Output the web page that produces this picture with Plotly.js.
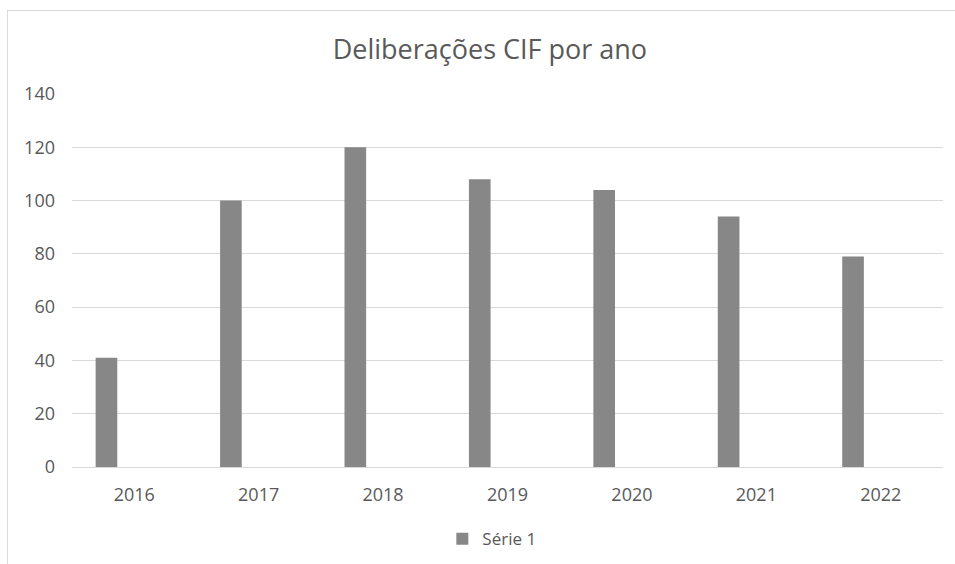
<!DOCTYPE html>
<html>
<head>
<meta charset="utf-8">
<script src="https://cdn.plot.ly/plotly-3.0.1.min.js"></script>
<style>
  html, body { margin: 0; padding: 0; background: #fff; }
  #frame { position: absolute; left: 7px; top: 10px; width: 1000px; height: 600px; border: 1px solid #d9d9d9; box-sizing: border-box; }
  #chart { position: absolute; left: 0; top: 0; width: 955px; height: 564px; }
</style>
</head>
<body>
<div id="frame"></div>
<div id="chart"></div>
<script>
const categories = ["2016", "2017", "2018", "2019", "2020", "2021", "2022"];
const serie1 = [41, 100, 120, 108, 104, 94, 79];
const seriesName = "Série 1";
const chartTitle = "Deliberações CIF por ano";
const yTicks = [0, 20, 40, 60, 80, 100, 120, 140];

const font = "Open Sans, Noto Sans, sans-serif";
const trace = {
  type: "bar",
  x: categories,
  y: serie1,
  name: seriesName,
  width: 0.174,
  offset: -0.31,
  marker: { color: "#878787", line: { width: 0 } },
  hoverinfo: "x+y"
};

const layout = {
  width: 955,
  height: 564,
  paper_bgcolor: "rgba(0,0,0,0)",
  plot_bgcolor: "rgba(0,0,0,0)",
  margin: { l: 72, r: 12, t: 94, b: 97 },
  font: { family: font, color: "#595959", size: 18 },
  title: {
    text: chartTitle,
    font: { family: font, size: 27, color: "#595959" },
    x: 0.513, xref: "container", xanchor: "center",
    y: 0.913, yref: "container", yanchor: "middle",
    automargin: false
  },
  xaxis: {
    type: "category",
    automargin: false,
    showgrid: false,
    zeroline: false,
    showline: false,
    ticks: "",
    tickfont: { size: 18, color: "#595959" },
    ticklabelstandoff: 15
  },
  yaxis: {
    range: [0, 140],
    automargin: false,
    tickvals: yTicks,
    showgrid: true,
    gridcolor: "#d9d9d9",
    gridwidth: 1,
    zeroline: true,
    zerolinecolor: "#d9d9d9",
    zerolinewidth: 1,
    showline: false,
    ticks: "",
    tickfont: { size: 18, color: "#595959" },
    ticklabelstandoff: 16
  },
  showlegend: true,
  legend: {
    orientation: "h",
    xref: "container", x: 0.515, xanchor: "center",
    yref: "container", y: 0.044, yanchor: "middle",
    font: { size: 17, color: "#595959" },
    itemwidth: 30
  },
  bargap: 0.2
};

Plotly.newPlot("chart", [trace], layout, { displayModeBar: false, staticPlot: true });
</script>
</body>
</html>
